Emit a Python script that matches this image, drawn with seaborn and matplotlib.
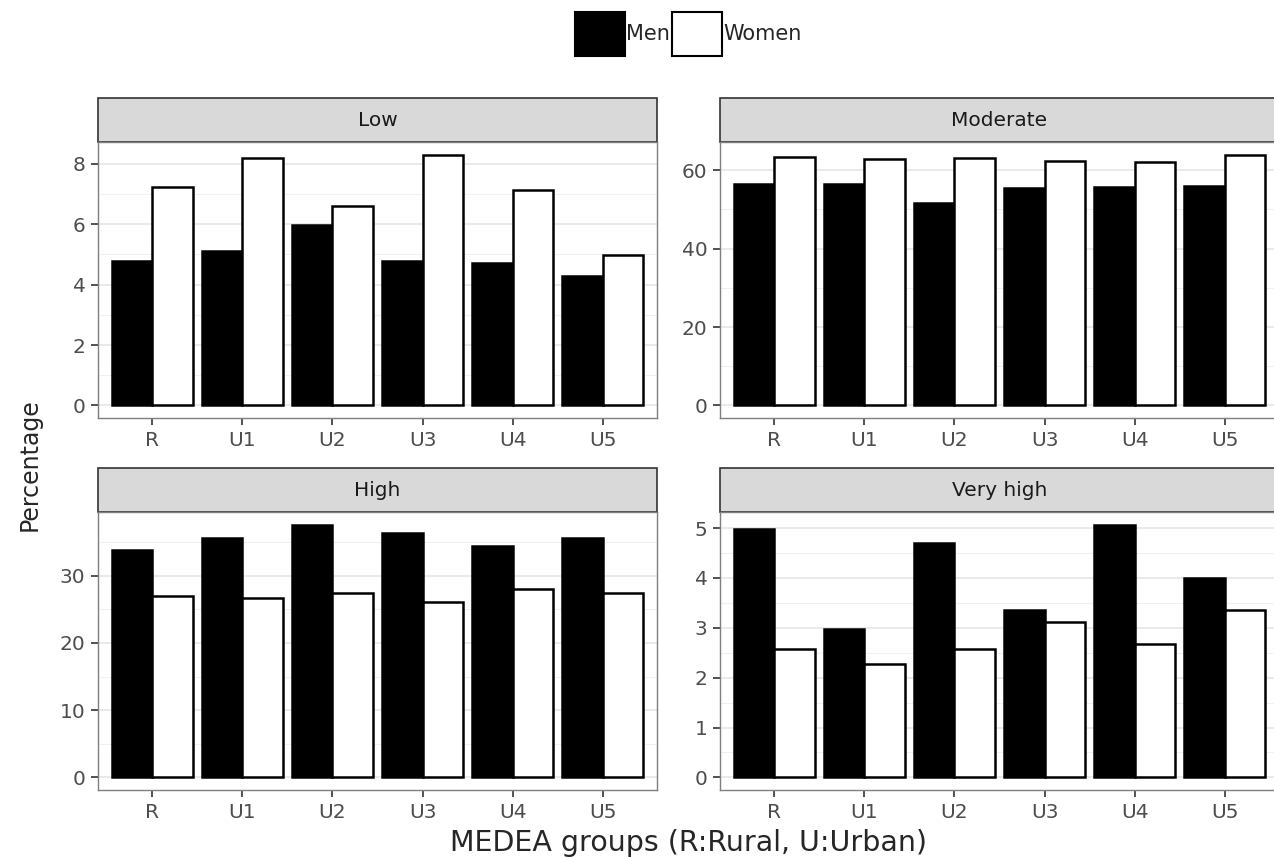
import pandas as pd
import matplotlib.pyplot as plt
import seaborn as sns
from matplotlib.patches import Rectangle, Patch
from matplotlib.ticker import MultipleLocator

# Data (percentages)
groups = ["R", "U1", "U2", "U3", "U4", "U5"]
levels = ["Low", "Moderate", "High", "Very high"]

low_men = [4.77, 5.12, 5.97, 4.80, 4.73, 4.30]
low_women = [7.25, 8.19, 6.60, 8.31, 7.12, 4.99]
moderate_men = [56.4, 56.4, 51.6, 55.4, 55.8, 56.0]
moderate_women = [63.4, 62.9, 63.2, 62.3, 62.2, 64.0]
high_men = [33.8, 35.6, 37.6, 36.4, 34.4, 35.6]
high_women = [27.0, 26.7, 27.4, 26.1, 28.0, 27.4]
veryhigh_men = [4.98, 2.97, 4.71, 3.35, 5.07, 4.00]
veryhigh_women = [2.57, 2.27, 2.57, 3.11, 2.68, 3.35]

y_steps = {"Low": 2, "Moderate": 20, "High": 10, "Very high": 1}

# Build a long DataFrame
series = {
    "Low": (low_men, low_women),
    "Moderate": (moderate_men, moderate_women),
    "High": (high_men, high_women),
    "Very high": (veryhigh_men, veryhigh_women),
}
rows = []
for level in levels:
    men, women = series[level]
    for g, m, w in zip(groups, men, women):
        rows.append({"Level": level, "Group": g, "Sex": "Men", "Percentage": m})
        rows.append({"Level": level, "Group": g, "Sex": "Women", "Percentage": w})
df = pd.DataFrame(rows)

sns.set_style("white")
plt.rcParams["font.family"] = ["DejaVu Sans"]

fig = plt.figure(figsize=(12.74, 8.57), dpi=100)

W, H = 1274, 857
# panel boxes in pixels: (left, top, right, bottom)
boxes = {
    "Low": (98, 142, 657, 418),
    "Moderate": (720, 142, 1279, 418),
    "High": (98, 512, 657, 790),
    "Very high": (720, 512, 1279, 790),
}
palette = {"Men": "black", "Women": "white"}

for level in levels:
    l, t, r, b = boxes[level]
    ax = fig.add_axes([l / W, (H - b) / H, (r - l) / W, (b - t) / H])
    sub = df[df["Level"] == level]
    sns.barplot(data=sub, x="Group", y="Percentage", hue="Sex", order=groups,
                hue_order=["Men", "Women"], palette=palette, edgecolor="black",
                linewidth=1.8, width=0.9, ax=ax, legend=False)
    top = sub["Percentage"].max()
    ax.set_ylim(-0.05 * top, 1.05 * top)
    ax.set_xlim(-0.6, 5.6)
    ax.yaxis.set_major_locator(MultipleLocator(y_steps[level]))
    ax.yaxis.set_minor_locator(MultipleLocator(y_steps[level] / 2))
    ax.grid(True, which="major", axis="y", color="#e6e6e6", lw=1.2, zorder=0)
    ax.grid(True, which="minor", axis="y", color="#f0f0f0", lw=0.8, zorder=0)
    ax.set_axisbelow(True)
    ax.set_xlabel("")
    ax.set_ylabel("")
    for s in ax.spines.values():
        s.set_color("#7f7f7f")
        s.set_linewidth(1.0)
    ax.tick_params(axis="both", which="major", length=5, width=1.2, color="#333333",
                   labelsize=14.5, labelcolor="#4d4d4d", pad=4, left=True, bottom=True)
    ax.tick_params(axis="y", which="minor", length=0)
    # facet strip
    strip_h = 44 / (b - t)
    ax.add_patch(Rectangle((0, 1.0), 1, strip_h, transform=ax.transAxes,
                           facecolor="#d9d9d9", edgecolor="#333333", lw=1.2,
                           clip_on=False))
    ax.text(0.5, 1 + strip_h / 2, level, transform=ax.transAxes, ha="center",
            va="center", fontsize=14.5, color="#1a1a1a")

fig.text(688 / W, 1 - 843 / H, "MEDEA groups (R:Rural, U:Urban)", ha="center",
         va="center", fontsize=20.5)
fig.text(30 / W, 1 - 465 / H, "Percentage", ha="center", va="center",
         rotation=90, fontsize=17)

handles = [Patch(facecolor="black", edgecolor="black", lw=1.5, label="Men"),
           Patch(facecolor="white", edgecolor="black", lw=1.5, label="Women")]
fig.legend(handles=handles, loc="center", bbox_to_anchor=(688 / W, 1 - 34 / H),
           ncol=2, frameon=False, fontsize=15, handlelength=2.4,
           handleheight=2.8, handletextpad=0.05, columnspacing=0.1)

plt.savefig("out.png", dpi=100)
plt.close()
